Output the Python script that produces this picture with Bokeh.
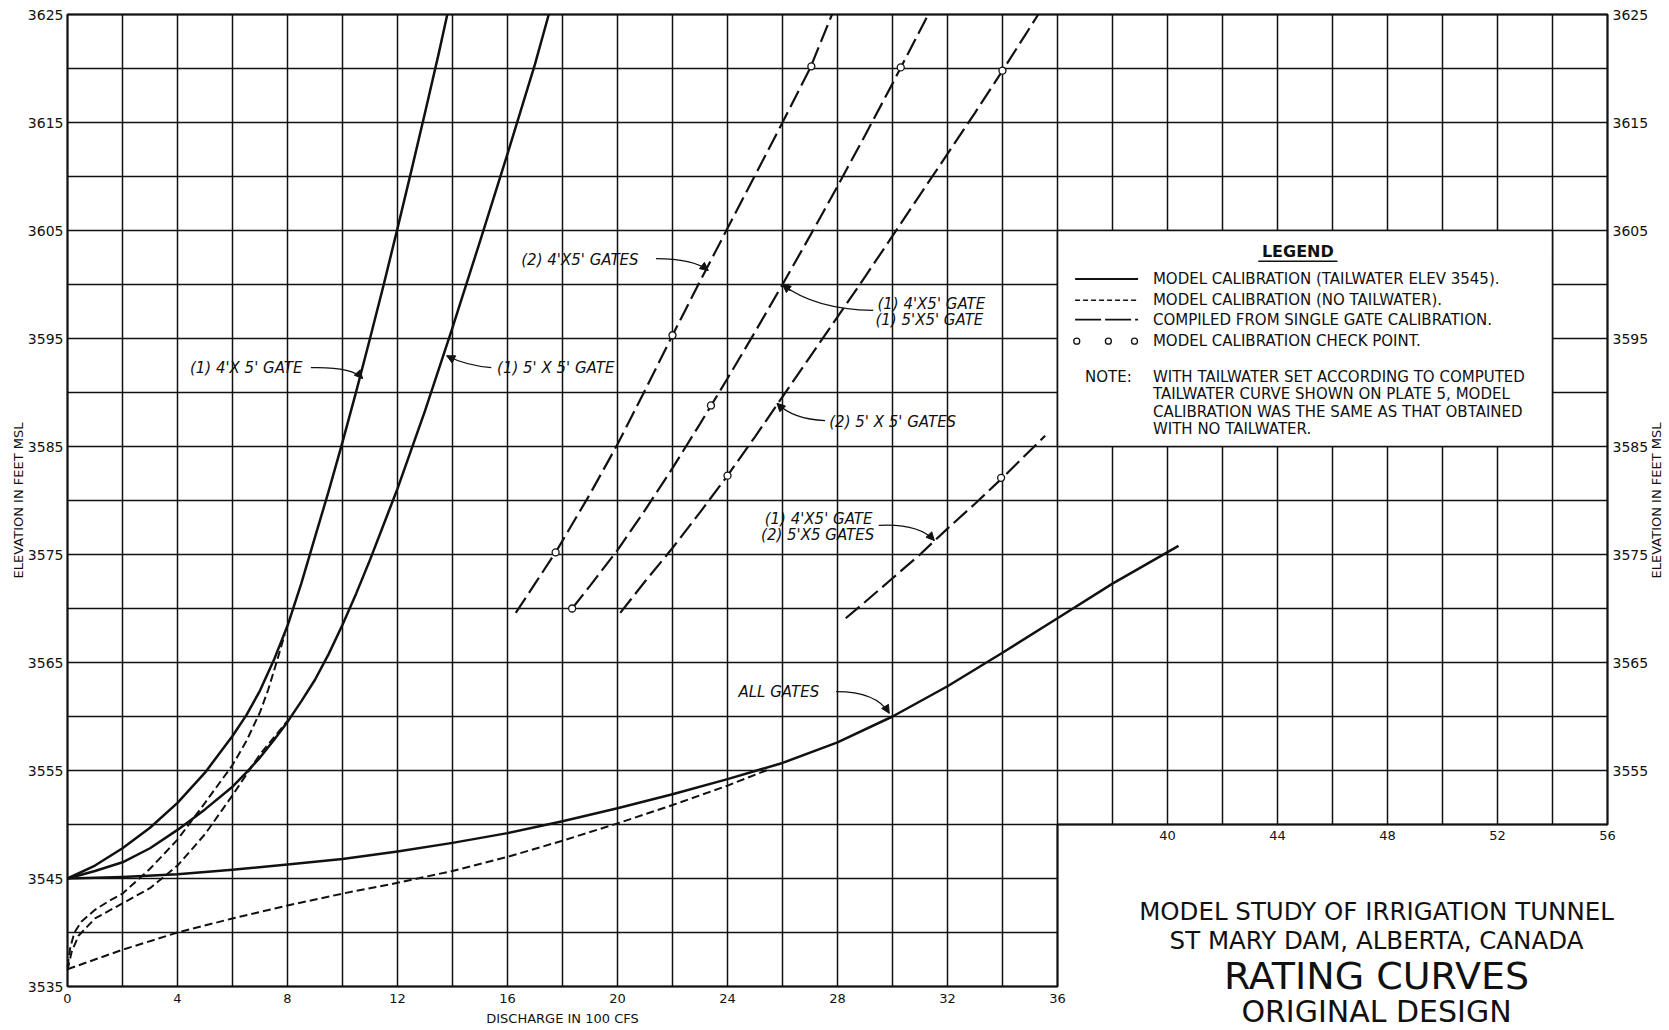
import math
from bokeh.plotting import figure
from bokeh.models import Range1d, Arrow, NormalHead, ColumnDataSource
from bokeh.core.properties import value
from bokeh.embed import file_html
from bokeh.resources import INLINE

FONT = "DejaVu Sans"
INK = "#111111"

# ---------------- data ----------------
x_ticks_low = [0, 4, 8, 12, 16, 20, 24, 28, 32, 36]
x_ticks_high = [40, 44, 48, 52, 56]
y_ticks_left = [3535, 3545, 3555, 3565, 3575, 3585, 3595, 3605, 3615, 3625]
y_ticks_right = [3555, 3565, 3575, 3585, 3595, 3605, 3615, 3625]
x_grid = list(range(0, 57, 2))
y_grid = list(range(3535, 3626, 5))

# model calibration, tailwater elev 3545 (solid)
q_one_4x5 = [0, 1, 2, 3, 4, 5, 6, 6.5, 7, 7.5, 8, 8.5, 9, 9.5, 10, 10.5, 11, 11.5, 12, 12.5,
             13, 13.5, 13.81]
el_one_4x5 = [3545, 3546.2, 3547.8, 3549.7, 3552.0, 3554.8, 3558.2, 3560.1, 3562.4, 3565.2,
              3568.4, 3572.3, 3576.6, 3580.9, 3585.4, 3590.1, 3595.0, 3600.0, 3605.2, 3610.5,
              3615.9, 3621.4, 3625.0]
q_one_5x5 = [0, 1, 2, 3, 4, 5, 6, 6.5, 7, 7.5, 8, 8.5, 9, 9.5, 10, 10.5, 11, 11.5, 12, 13, 14,
             15, 16, 17, 17.5]
el_one_5x5 = [3545, 3545.7, 3546.5, 3547.8, 3549.5, 3551.4, 3553.5, 3554.8, 3556.2, 3557.8,
              3559.5, 3561.4, 3563.4, 3565.8, 3568.5, 3571.4, 3574.5, 3577.8, 3581.1, 3588.3,
              3596.0, 3604.0, 3612.1, 3620.4, 3625.0]
q_all = [0, 2, 4, 6, 8, 10, 12, 14, 16, 18, 20, 22, 24, 26, 28, 30, 32, 34, 36, 38, 40.4]
el_all = [3545, 3545.15, 3545.4, 3545.8, 3546.3, 3546.8, 3547.5, 3548.3, 3549.2, 3550.3,
          3551.5, 3552.8, 3554.2, 3555.7, 3557.6, 3560.0, 3562.8, 3565.9, 3569.1, 3572.3, 3575.8]

# model calibration, no tailwater (short dash)
q_one_4x5_ntw = [0, 0.1, 0.25, 0.5, 1, 1.5, 2, 3, 4, 5, 6, 6.5, 7, 7.3, 7.6, 7.9]
el_one_4x5_ntw = [3536.8, 3538.6, 3540.0, 3541.0, 3542.1, 3542.9, 3543.6, 3545.9, 3548.6,
                  3552.0, 3555.5, 3557.7, 3560.4, 3562.5, 3565.0, 3567.6]
q_one_5x5_ntw = [0, 0.15, 0.4, 1, 2, 3, 4, 5, 6, 7, 8]
el_one_5x5_ntw = [3536.5, 3538.2, 3539.7, 3541.3, 3542.7, 3544.1, 3546.2, 3549.1, 3552.7,
                  3556.5, 3559.6]
q_all_ntw = [0, 2, 4, 6, 8, 10, 12, 14, 16, 18, 20, 22, 24, 25.5]
el_all_ntw = [3536.6, 3538.4, 3540.0, 3541.3, 3542.5, 3543.6, 3544.6, 3545.7, 3547.0, 3548.5,
              3550.1, 3551.8, 3553.6, 3555.1]

# compiled from single gate calibration (long dash)
q_two_4x5 = [16.3, 17, 17.75, 19, 20, 21, 22, 23, 24, 25, 26, 27, 27.8]
el_two_4x5 = [3569.6, 3572.3, 3575.2, 3580.6, 3585.2, 3590.2, 3595.3, 3600.3, 3605.2, 3610.1,
              3615.0, 3620.0, 3625.0]
q_4x5_5x5 = [18.35, 19, 20, 21, 22, 23, 24, 25, 26, 27, 28, 29, 30, 31.3]
el_4x5_5x5 = [3570.0, 3572.1, 3575.4, 3579.1, 3583.0, 3587.1, 3591.3, 3595.6, 3600.0, 3604.5,
              3609.1, 3613.8, 3618.6, 3625.0]
q_two_5x5 = [20.1, 21, 22, 23, 24, 25, 26, 27, 28, 29, 30, 31, 32, 33, 34, 35.3]
el_two_5x5 = [3569.6, 3572.5, 3575.6, 3578.9, 3582.3, 3585.9, 3589.6, 3593.3, 3597.0, 3600.7,
              3604.5, 3608.3, 3612.1, 3615.9, 3619.8, 3625.0]
q_4x5_two_5x5 = [28.3, 29, 30, 31, 32, 33, 34, 35.55]
el_4x5_two_5x5 = [3569.1, 3570.6, 3572.8, 3575.0, 3577.4, 3579.7, 3582.1, 3586.0]

# model calibration check points
check_q = [17.75, 22.0, 27.05, 18.35, 23.4, 30.3, 24.0, 34.0, 33.95]
check_el = [3575.2, 3595.3, 3620.2, 3570.0, 3588.8, 3620.1, 3582.3, 3619.8, 3582.1]

# curve labels
curve_label_text = ["(1) 4'X 5' GATE", "(1) 5' X 5' GATE", "(2) 4'X5' GATES",
                    "(1) 4'X5' GATE", "(1) 5'X5' GATE", "(2) 5' X 5' GATES",
                    "(1) 4'X5' GATE", "(2) 5'X5 GATES", "ALL GATES"]
curve_label_x = [4.45, 15.62, 16.5, 29.45, 29.38, 27.7, 25.35, 25.22, 24.4]
curve_label_y = [3592.3, 3592.3, 3602.3, 3598.2, 3596.75, 3587.3, 3578.3, 3576.85, 3562.3]

# leader lines (start, control, tip)
lead_x0 = [8.85, 15.41, 21.4, 29.3, 27.55, 29.5, 27.95]
lead_y0 = [3592.3, 3592.3, 3602.4, 3597.6, 3587.4, 3577.7, 3562.3]
lead_cx = [10.34, 14.49, 22.75, 27.17, 26.39, 30.94, 29.41]
lead_cy = [3592.4, 3592.5, 3602.4, 3597.7, 3587.5, 3577.9, 3562.3]
lead_x1 = [10.73, 13.79, 23.3, 26.0, 25.8, 31.52, 29.88]
lead_y1 = [3591.3, 3593.4, 3601.3, 3600.0, 3589.0, 3576.3, 3560.3]

legend_title = "LEGEND"
legend_items = ["MODEL CALIBRATION (TAILWATER ELEV 3545).",
                "MODEL CALIBRATION (NO TAILWATER).",
                "COMPILED FROM SINGLE GATE CALIBRATION.",
                "MODEL CALIBRATION CHECK POINT."]
note_head = "NOTE:"
note_lines = ["WITH TAILWATER SET ACCORDING TO COMPUTED",
              "TAILWATER CURVE SHOWN ON PLATE 5, MODEL",
              "CALIBRATION WAS THE SAME AS THAT OBTAINED",
              "WITH NO TAILWATER."]
title_lines = ["MODEL STUDY OF IRRIGATION TUNNEL", "ST MARY DAM, ALBERTA, CANADA",
               "RATING CURVES", "ORIGINAL DESIGN"]
x_axis_title = "DISCHARGE IN 100 CFS"
y_axis_title = "ELEVATION IN FEET MSL"

# ---------------- layout ----------------
W, H = 1669, 1030
FL, FR, FT, FB = 67, 1607, 14, 986         # chart area in canvas pixels
X0, X1, Y0, Y1 = 0, 56, 3535, 3625
CUT_X, CUT_Y = 36, 3550
LEG_L, LEG_R, LEG_B, LEG_T = 36, 54, 3585, 3605
kx = (FR - FL) / (X1 - X0)
ky = (FB - FT) / (Y1 - Y0)

def px_x(px):   # canvas px -> data x
    return X0 + (px - FL) / kx

def px_y(py):   # canvas px (from top) -> data y
    return Y1 - (py - FT) / ky

p = figure(width=W, height=H,
           x_range=Range1d(px_x(0), px_x(W)), y_range=Range1d(px_y(H), px_y(0)),
           output_backend="svg", toolbar_location=None,
           x_axis_location=None, y_axis_location=None,
           min_border=0, min_border_left=0, min_border_right=0,
           min_border_top=0, min_border_bottom=0)
p.outline_line_color = None
p.background_fill_color = "white"
p.border_fill_color = "white"
p.grid.visible = False

# grid (the lower-right corner below CUT_Y and right of CUT_X is open)
vx0, vy0, vx1, vy1 = [], [], [], []
for gx in x_grid:
    vx0.append(gx); vx1.append(gx)
    vy0.append(CUT_Y if gx > CUT_X else Y0); vy1.append(Y1)
for gy in y_grid:
    vx0.append(X0); vx1.append(CUT_X if gy < CUT_Y else X1)
    vy0.append(gy); vy1.append(gy)
p.segment(vx0, vy0, vx1, vy1, line_color=INK, line_width=1.5)
p.line([X0, X0, X1, X1, CUT_X, CUT_X, X0], [Y0, Y1, Y1, CUT_Y, CUT_Y, Y0, Y0],
       line_color=INK, line_width=2.0)

# legend box
p.quad(left=[LEG_L], right=[LEG_R], bottom=[LEG_B], top=[LEG_T], fill_color="white",
       line_color=INK, line_width=1.6)

# tick labels
tick_font = dict(text_font=value(FONT), text_color=INK, text_baseline="middle")
p.text([X0] * len(y_ticks_left), y_ticks_left, text=[str(v) for v in y_ticks_left],
       x_offset=-4, text_align="right", text_font_size="14px", **tick_font)
p.text([X1] * len(y_ticks_right), y_ticks_right, text=[str(v) for v in y_ticks_right],
       x_offset=5, text_align="left", text_font_size="14px", **tick_font)
p.text(x_ticks_low, [px_y(FB + 12)] * len(x_ticks_low), text=[str(v) for v in x_ticks_low],
       text_align="center", text_font_size="13px", **tick_font)
y_cut_px = FT + (Y1 - CUT_Y) * ky
p.text(x_ticks_high, [px_y(y_cut_px + 11)] * len(x_ticks_high),
       text=[str(v) for v in x_ticks_high], text_align="center", text_font_size="13px",
       **tick_font)

# axis titles
p.text([px_x(18)], [3580], text=[y_axis_title], angle=math.pi / 2,
       text_align="center", text_font_size="13px", **tick_font)
p.text([px_x(1656)], [3580], text=[y_axis_title], angle=math.pi / 2,
       text_align="center", text_font_size="13px", **tick_font)
p.text([(X0 + CUT_X) / 2], [px_y(FB + 32)], text=[x_axis_title], text_align="center",
       text_font_size="13px", **tick_font)

# curves
solid = dict(line_color=INK, line_width=2.5, line_join="round")
short = dict(line_color=INK, line_width=2.0, line_dash="8 4")
longd = dict(line_color=INK, line_width=2.2, line_dash="18 6")
p.line(q_one_4x5, el_one_4x5, **solid)
p.line(q_one_5x5, el_one_5x5, **solid)
p.line(q_all, el_all, **solid)
p.line(q_one_4x5_ntw, el_one_4x5_ntw, **short)
p.line(q_one_5x5_ntw, el_one_5x5_ntw, **short)
p.line(q_all_ntw, el_all_ntw, **short)
p.line(q_two_4x5, el_two_4x5, **longd)
p.line(q_4x5_5x5, el_4x5_5x5, **longd)
p.line(q_two_5x5, el_two_5x5, **longd)
p.line(q_4x5_two_5x5, el_4x5_two_5x5, **longd)
p.scatter(check_q, check_el, marker="circle", size=7, fill_color="white", line_color=INK,
          line_width=1.3)

# curve labels + leader arrows
p.text(curve_label_x, curve_label_y, text=curve_label_text, text_font=value(FONT),
       text_font_size="15px", text_font_style="italic", text_color=INK,
       text_baseline="middle", text_align="left")
p.quadratic(x0=lead_x0, y0=lead_y0, x1=lead_x1, y1=lead_y1, cx=lead_cx, cy=lead_cy,
            line_color=INK, line_width=1.3)
a_src = ColumnDataSource(dict(
    xs=[x1 - 0.25 * (x1 - cx) for x1, cx in zip(lead_x1, lead_cx)],
    ys=[y1 - 0.25 * (y1 - cy) for y1, cy in zip(lead_y1, lead_cy)],
    xe=lead_x1, ye=lead_y1))
p.add_layout(Arrow(end=NormalHead(size=8, fill_color=INK, line_color=INK, line_width=1),
                   x_start="xs", y_start="ys", x_end="xe", y_end="ye", source=a_src,
                   line_color=INK, line_width=1.3))

# legend contents
sx0, sx1 = LEG_L + 0.64, LEG_L + 2.93
tx = LEG_L + 3.47
row_y = [LEG_T - 4.5, LEG_T - 6.46, LEG_T - 8.25, LEG_T - 10.25]
p.text([LEG_L + 8.74], [LEG_T - 1.9], text=[legend_title], text_font=value(FONT),
       text_font_size="16px", text_font_style="bold", text_color=INK,
       text_align="center", text_baseline="middle")
p.line([LEG_L + 7.3, LEG_L + 10.18], [LEG_T - 2.85] * 2, line_color=INK, line_width=1.5)
p.line([sx0, sx1], [row_y[0]] * 2, line_color=INK, line_width=2.0)
p.line([sx0, sx1], [row_y[1]] * 2, line_color=INK, line_width=1.7, line_dash="5 3")
p.line([sx0, sx1], [row_y[2]] * 2, line_color=INK, line_width=1.9, line_dash="26 4")
p.scatter([LEG_L + 0.7, LEG_L + 1.85, LEG_L + 2.8], [row_y[3]] * 3, marker="circle", size=6,
          fill_color="white", line_color=INK, line_width=1.3)
leg_font = dict(text_font=value(FONT), text_font_size="15px", text_color=INK,
                text_baseline="middle", text_align="left")
p.text([tx] * 4, row_y, text=legend_items, **leg_font)
note_y = [LEG_T - 13.54, LEG_T - 15.17, LEG_T - 16.8, LEG_T - 18.4]
p.text([LEG_L + 1.0], [note_y[0]], text=[note_head], **leg_font)
p.text([tx] * 4, note_y, text=note_lines, **leg_font)

# title block
title_y = [px_y(911), px_y(940), px_y(975), px_y(1011)]
title_size = ["24.5px", "24.5px", "38px", "30px"]
for t, ty, ts in zip(title_lines, title_y, title_size):
    p.text([47.6], [ty], text=[t], text_font=value(FONT), text_font_size=ts,
           text_color=INK, text_align="center", text_baseline="middle")

open("out.html", "w").write(file_html(p, INLINE))
